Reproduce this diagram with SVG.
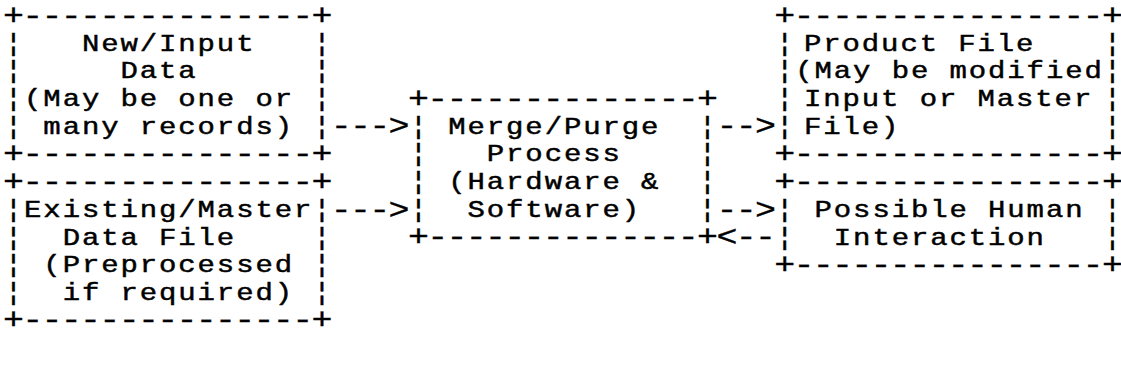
<svg xmlns="http://www.w3.org/2000/svg" width="1121" height="375" viewBox="0 0 1121 375">
  <style>
    /* fixed-pitch character grid: 19.28px per column, 27.7px per row
       (rows are 32.588 units before the 0.85 vertical squash) */
    text {
      font-family: "Liberation Mono", "Courier New", monospace;
      font-size: 29px;
      letter-spacing: 1.88px;
      fill: #000;
      stroke: #000;
      stroke-width: 0.55px;
      white-space: pre;
    }
    /* border and arrow rows: larger glyphs for longer dashes, same pitch */
    text.rule {
      font-size: 35px;
      letter-spacing: -1.72px;
      stroke-width: 0.4px;
    }
  </style>
  <rect width="1121" height="375" fill="#fff"/>

  <g id="diagram" transform="translate(0,23) scale(1,0.85)">
    <!-- column 0 -->
    <g id="node-new-input" xml:space="preserve">
      <text class="rule" x="3" y="1.9">+---------------+</text>
      <text x="4.8" y="32.59">¦   New/Input   ¦</text>
      <text x="4.8" y="65.18">¦     Data      ¦</text>
      <text x="4.8" y="97.76">¦(May be one or ¦</text>
      <text x="4.8" y="130.35">¦ many records) ¦</text>
      <text class="rule" x="3" y="164.84">+---------------+</text>
    </g>

    <g id="node-existing-master" xml:space="preserve">
      <text class="rule" x="3" y="197.43">+---------------+</text>
      <text x="4.8" y="228.12">¦Existing/Master¦</text>
      <text x="4.8" y="260.71">¦  Data File    ¦</text>
      <text x="4.8" y="293.29">¦ (Preprocessed ¦</text>
      <text x="4.8" y="325.88">¦  if required) ¦</text>
      <text class="rule" x="3" y="360.37">+---------------+</text>
    </g>

    <!-- column 21 -->
    <g id="node-merge-purge" xml:space="preserve">
      <text class="rule" x="407.9" y="99.66">+--------------+</text>
      <text x="409.7" y="130.35">¦ Merge/Purge  ¦</text>
      <text x="409.7" y="162.94">¦   Process    ¦</text>
      <text x="409.7" y="195.53">¦ (Hardware &amp;  ¦</text>
      <text x="409.7" y="228.12">¦  Software)   ¦</text>
      <text class="rule" x="407.9" y="262.61">+--------------+</text>
    </g>

    <!-- column 40; the indented lines sit half a column left of the grid -->
    <g id="node-product-file" xml:space="preserve">
      <text class="rule" x="774.2" y="1.9">+----------------+</text>
      <text x="776" y="32.59">¦</text>
      <text x="804" y="32.59">Product File</text>
      <text x="1103.8" y="32.59">¦</text>
      <text x="776" y="65.18">¦(May be modified¦</text>
      <text x="776" y="97.76">¦</text>
      <text x="804" y="97.76">Input or Master</text>
      <text x="1103.8" y="97.76">¦</text>
      <text x="776" y="130.35">¦</text>
      <text x="804" y="130.35">File)</text>
      <text x="1103.8" y="130.35">¦</text>
      <text class="rule" x="774.2" y="164.84">+----------------+</text>
    </g>

    <g id="node-human-interaction" xml:space="preserve">
      <text class="rule" x="774.2" y="197.43">+----------------+</text>
      <text x="776" y="228.12">¦ Possible Human ¦</text>
      <text x="776" y="260.71">¦  Interaction   ¦</text>
      <text class="rule" x="774.2" y="295.19">+----------------+</text>
    </g>

    <!-- arrows drawn on the same grid -->
    <g id="connectors">
      <text class="rule" x="330.8" y="132.25">---&gt;</text>
      <text class="rule" x="330.8" y="230.02">---&gt;</text>
      <text class="rule" x="716.4" y="132.25">--&gt;</text>
      <text class="rule" x="716.4" y="230.02">--&gt;</text>
      <text class="rule" x="716.4" y="262.61">&lt;--</text>
    </g>
  </g>
</svg>
